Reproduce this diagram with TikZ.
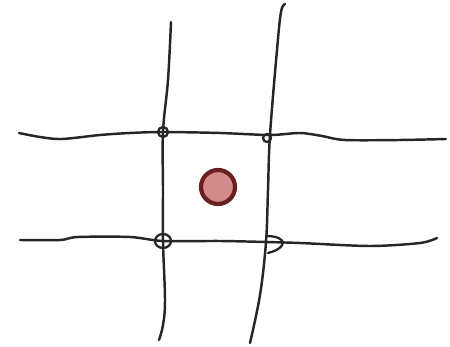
\documentclass[tikz,border=0pt]{standalone}
\usepackage{tikz}
\usetikzlibrary{calc}
\definecolor{dotfill}{RGB}{210,138,138}
\definecolor{dotedge}{RGB}{105,32,32}
\tikzset{
  pen/.style={draw=black!85, line width=1.4pt, line cap=round, line join=round},
  knot/.style={pen, line width=1.3pt},
  marker/.style={circle, draw=dotedge, fill=dotfill, line width=2.4pt, minimum size=0.68cm, inner sep=0pt}
}
\begin{document}
\begin{tikzpicture}[x=0.02cm, y=-0.02cm]
  \useasboundingbox (0,0) rectangle (450,347);
  % crossings of the grid
  \coordinate (tl) at (163,132);
  \coordinate (tr) at (270,135);
  \coordinate (bl) at (163,241);
  \coordinate (br) at (266,242);

  % vertical strokes
  \draw[pen] plot[smooth, tension=0.6] coordinates {(171,22) (168,80) (tl) (163,190) (bl) (165,300) (163,325) (159,340)};
  \draw[pen] plot[smooth, tension=0.6] coordinates {(285,4) (281,12) (277,50) (tr) (268,190) (br) (260,295) (250,343)};

  % horizontal strokes
  \draw[pen] plot[smooth, tension=0.5] coordinates {(19,133) (40,137) (62,139) (100,135) (130,133) (tl) (220,133) (tr) (300,133) (322,136) (345,140) (400,140) (446,139)};
  \draw[pen] plot[smooth, tension=0.5] coordinates {(20,240) (60,240) (78,237) (130,237) (bl) (220,241) (br) (300,243) (370,246) (420,243) (437,238)};

  % little loops at the crossings
  \draw[knot] (tl) circle[radius=5];
  \draw[knot] ($(tr)+(-3,3)$) circle[radius=4];
  \draw[knot] (bl) circle[x radius=8, y radius=7];
  \draw[knot] ($(br)+(0,-6)$) .. controls ($(br)+(22,-6)$) and ($(br)+(22,6)$) .. ($(br)+(2,11)$);

  % the dot in the middle
  \node[marker] (dot) at (218,187) {};
\end{tikzpicture}
\end{document}
